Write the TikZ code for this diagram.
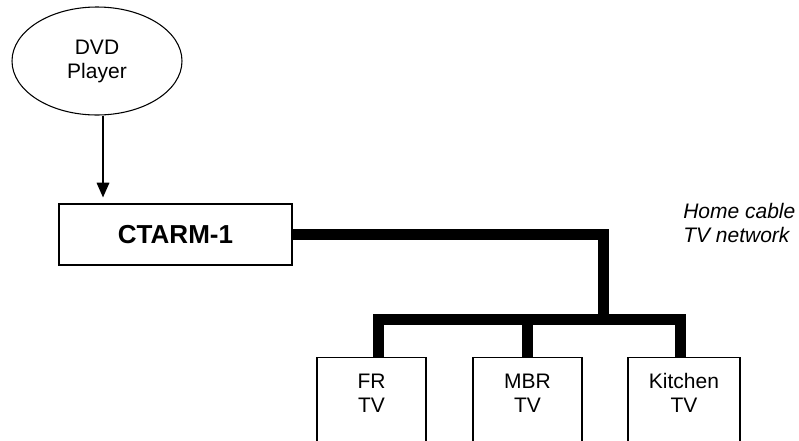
\documentclass[tikz,border=0pt]{standalone}
\usepackage{fontspec}
\setmainfont{Liberation Sans}
\usetikzlibrary{shapes.geometric,arrows.meta}

\tikzset{
  player/.style={ellipse,draw,line width=0.8pt,minimum width=127.5pt,minimum height=81pt,align=center,font=\fontsize{15.75}{18}\selectfont},
  ctrl/.style={rectangle,draw,line width=0.9pt,minimum width=174.75pt,minimum height=45.75pt,font=\bfseries\fontsize{19.5}{22}\selectfont},
  tvbox/.style={rectangle,draw,line width=0.9pt,anchor=north,minimum width=81.75pt,inner ysep=12pt,text depth=60pt,align=center,font=\fontsize{15.75}{18}\selectfont},
  cable/.style={line width=8.25pt,line join=miter},
  feed/.style={-{Triangle[width=9.5pt,length=11pt]},line width=0.8pt}
}

\begin{document}
\begin{tikzpicture}[x=0.75pt,y=-0.75pt]
  \useasboundingbox (0,0) rectangle (799,440);
  \clip (0,0) rectangle (799,440);

  \node[player] (dvd) at (97,61) {DVD\\Player};
  \node[ctrl] (ctarm) at (175.5,234.5) {CTARM-1};

  \node[tvbox] (fr) at (371.5,357) {FR\\TV};
  \node[tvbox] (mbr) at (527.5,357) {MBR\\TV};
  \node[tvbox,minimum width=84pt] (kit) at (684,357) {Kitchen\\TV};

  \node[anchor=north west,align=left,inner sep=0pt,font=\itshape\fontsize{15.75}{18}\selectfont] (net) at (683,203) {Home cable\\TV network};

  % DVD into the modulator
  \draw[feed,shorten >=4.5pt] ([xshift=4.5pt]dvd.south) -- ([xshift=4.5pt]dvd.south |- ctarm.north);

  % cable network
  \coordinate (bus) at (603,319.5);
  \draw[cable] (ctarm.east) -| (bus);
  \draw[cable] ([xshift=4.9pt]fr.north) |- (bus) -| ([xshift=-3pt]kit.north);
  \draw[cable] (mbr.north) -- (mbr.north |- bus);
\end{tikzpicture}
\end{document}
